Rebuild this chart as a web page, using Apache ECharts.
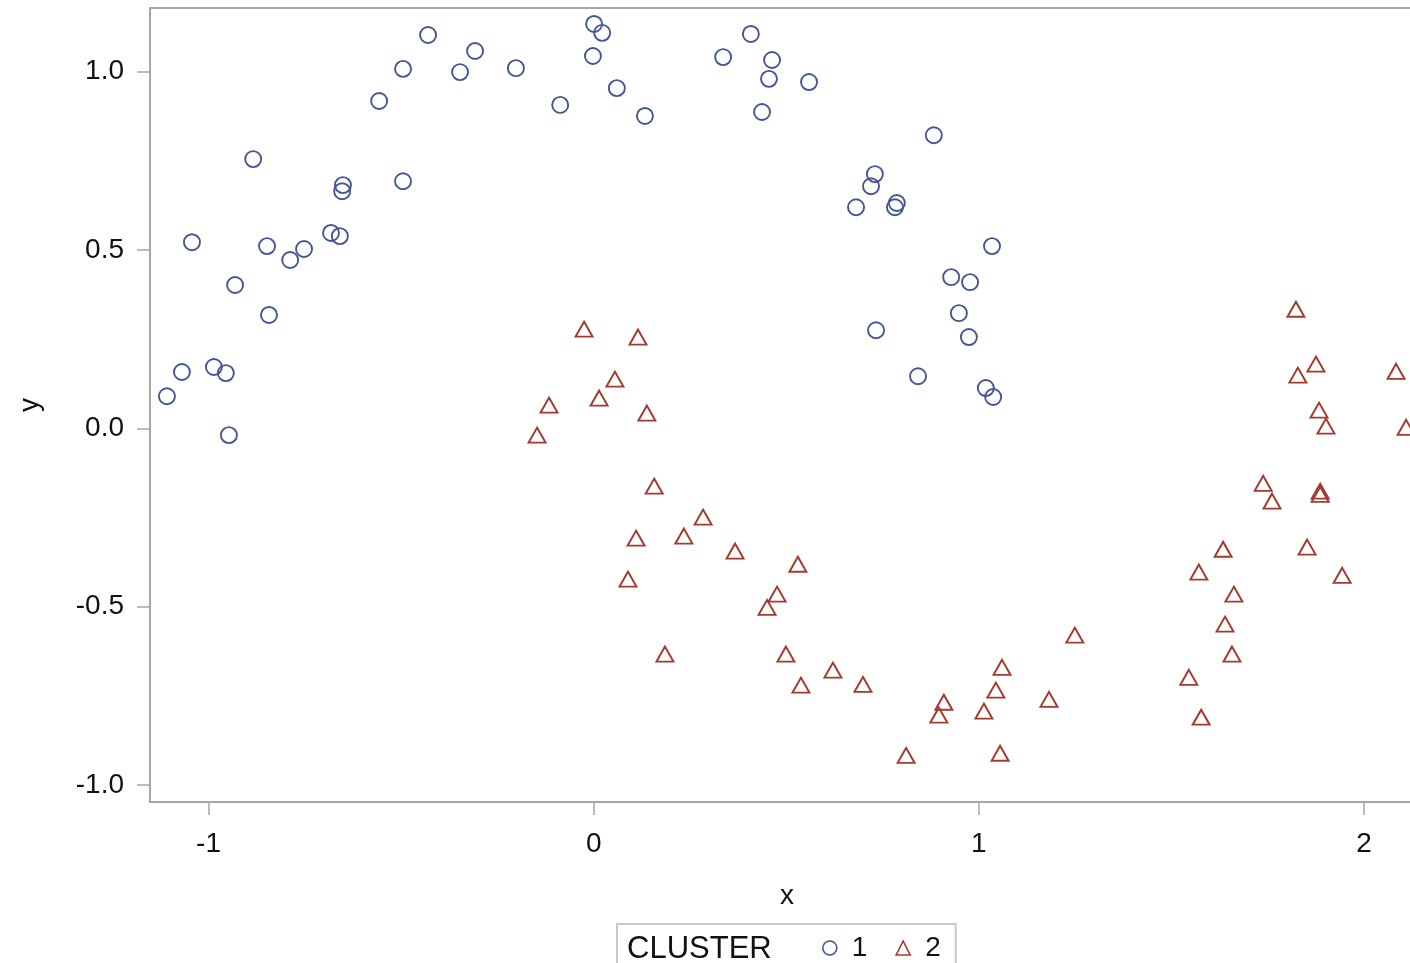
<!DOCTYPE html>
<html>
<head>
<meta charset="utf-8">
<script src="https://cdn.jsdelivr.net/npm/echarts@6/dist/echarts.min.js"></script>
<style>
html,body{margin:0;padding:0;background:#fff;}
#chart{width:1410px;height:963px;}
</style>
</head>
<body>
<div id="chart"></div>
<script>
// Cluster 1 (circles)
const c1x = [-1.108,-1.069,-1.043,-0.986,-0.955,-0.947,-0.931,-0.884,-0.848,-0.843,
             -0.788,-0.752,-0.682,-0.659,-0.651,-0.653,-0.557,-0.495,-0.495,-0.430,
             -0.347,-0.308,-0.202,-0.087,-0.002,0.001,0.022,0.060,0.133,0.336,
             0.408,0.463,0.455,0.437,0.559,0.883,0.730,0.720,0.681,0.787,
             0.782,1.034,0.928,0.977,0.948,0.974,0.733,0.842,1.018,1.037];
const c1y = [0.090,0.158,0.522,0.172,0.155,-0.019,0.402,0.755,0.511,0.318,
             0.472,0.503,0.548,0.539,0.682,0.665,0.918,1.008,0.693,1.103,
             0.999,1.058,1.010,0.907,1.044,1.134,1.109,0.954,0.876,1.041,
             1.106,1.033,0.980,0.887,0.971,0.822,0.713,0.679,0.620,0.632,
             0.620,0.511,0.424,0.410,0.323,0.256,0.275,0.146,0.113,0.088];
// Cluster 2 (triangles)
const c2x = [-0.025,0.115,0.055,0.014,-0.116,0.138,-0.147,0.157,0.284,0.110,
             0.234,0.367,0.530,0.089,0.476,0.450,0.185,0.499,0.621,0.538,
             0.699,0.909,0.896,0.811,1.055,1.013,1.044,1.060,1.182,1.249,
             1.545,1.577,1.657,1.639,1.662,1.571,1.634,1.738,1.761,1.886,
             1.886,1.852,1.943,1.823,1.875,1.828,1.883,1.901,2.083,2.109];
const c2y = [0.278,0.256,0.138,0.085,0.065,0.043,-0.019,-0.162,-0.249,-0.308,
             -0.302,-0.344,-0.381,-0.423,-0.465,-0.502,-0.633,-0.633,-0.678,-0.720,
             -0.718,-0.768,-0.804,-0.917,-0.911,-0.793,-0.734,-0.670,-0.760,-0.580,
             -0.698,-0.810,-0.633,-0.549,-0.465,-0.403,-0.339,-0.154,-0.204,-0.176,
             -0.185,-0.333,-0.412,0.334,0.180,0.149,0.051,0.006,0.160,0.003];
const xTicks = [-1, 0, 1, 2];
const yTicks = [-1.0, -0.5, 0.0, 0.5, 1.0];

const FONT = "'Liberation Sans', Arial, Helvetica, sans-serif";
const BLUE = '#445694';
const RED = '#A23A2E';
const AXIS = '#a6a6a6';

const pts = (xs, ys) => xs.map((v, i) => [v, ys[i]]);

const chart = echarts.init(document.getElementById('chart'), null, {renderer: 'canvas'});
chart.setOption({
  animation: false,
  backgroundColor: '#fff',
  grid: {
    left: 150, top: 8, width: 1274, height: 794,
    outerBoundsMode: 'none', containLabel: false,
    show: true, borderColor: AXIS, borderWidth: 2, backgroundColor: 'transparent'
  },
  xAxis: {
    type: 'value', min: -1.1519, max: 2.1555,
    name: 'x', nameLocation: 'middle', nameGap: 80,
    nameTextStyle: {fontFamily: FONT, fontSize: 28, color: '#111'},
    axisLine: {show: true, onZero: false, lineStyle: {color: AXIS, width: 2}},
    axisTick: {show: true, customValues: xTicks, length: 13, lineStyle: {color: AXIS, width: 1.5}},
    axisLabel: {customValues: xTicks, margin: 28, fontFamily: FONT, fontSize: 28, color: '#111'},
    splitLine: {show: false}
  },
  yAxis: {
    type: 'value', min: -1.0477, max: 1.1787,
    name: 'y', nameLocation: 'middle', nameGap: 106,
    nameTextStyle: {fontFamily: FONT, fontSize: 28, color: '#111'},
    axisLine: {show: true, onZero: false, lineStyle: {color: AXIS, width: 2}},
    axisTick: {show: true, customValues: yTicks, length: 13, lineStyle: {color: AXIS, width: 1.5}},
    axisLabel: {customValues: yTicks, margin: 26, fontFamily: FONT, fontSize: 28, color: '#111',
                formatter: v => Number(v).toFixed(1)},
    splitLine: {show: false}
  },
  legend: {
    left: 617, top: 924,
    orient: 'horizontal',
    padding: [10, 15, 10, 205],
    itemWidth: 14, itemHeight: 14, itemGap: 28,
    symbolKeepAspect: true,
    borderColor: '#c8c8c8', borderWidth: 2,
    selectedMode: false,
    textStyle: {fontFamily: FONT, fontSize: 28, color: '#111', padding: [0, 0, 0, 10]},
    data: [
      {name: '1', icon: 'circle', itemStyle: {color: 'rgba(0,0,0,0)', borderColor: BLUE, borderWidth: 1.6}},
      {name: '2', icon: 'triangle', itemStyle: {color: 'rgba(0,0,0,0)', borderColor: RED, borderWidth: 1.6}}
    ]
  },
  graphic: [{
    type: 'text', x: 627, y: 949,
    style: {text: 'CLUSTER', font: "31px 'Liberation Sans', Arial, sans-serif", fill: '#111', verticalAlign: 'middle', textAlign: 'left'}
  }],
  series: [
    {
      name: '1', type: 'scatter', symbol: 'circle', symbolSize: 16,
      itemStyle: {color: 'rgba(0,0,0,0)', borderColor: BLUE, borderWidth: 1.9, opacity: 1},
      data: pts(c1x, c1y)
    },
    {
      name: '2', type: 'scatter', symbol: 'triangle', symbolSize: [17, 15],
      itemStyle: {color: 'rgba(0,0,0,0)', borderColor: RED, borderWidth: 1.9, opacity: 1},
      data: pts(c2x, c2y)
    }
  ]
});
</script>
</body>
</html>
